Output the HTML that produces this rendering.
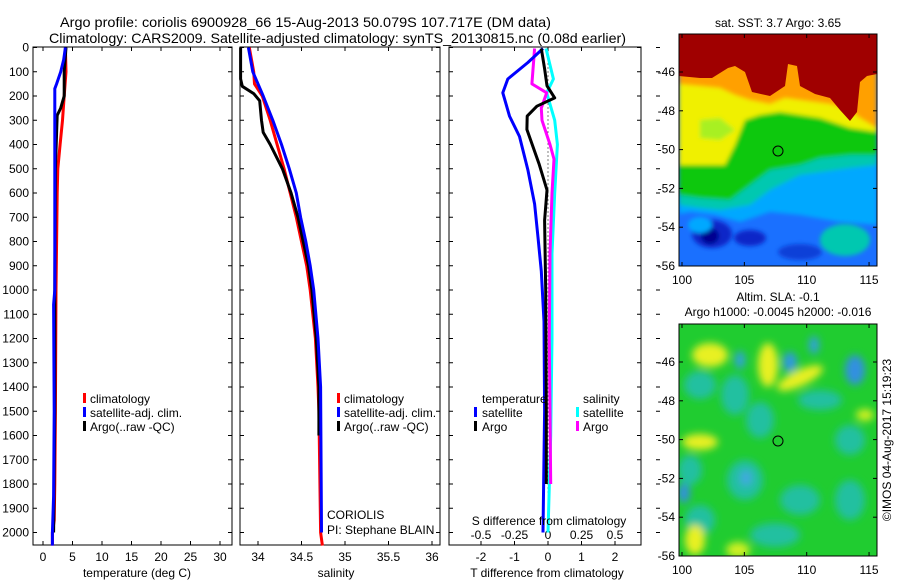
<!DOCTYPE html>
<html><head><meta charset="utf-8">
<style>
html,body{margin:0;padding:0;background:#fff;}
svg{display:block;font-family:"Liberation Sans",sans-serif;}
text{fill:#000;}
</style></head>
<body>
<svg id="fig" width="900" height="580" viewBox="0 0 900 580" xmlns="http://www.w3.org/2000/svg">
<defs>
<filter id="blur2"><feGaussianBlur stdDeviation="2"/></filter>
<filter id="blur4"><feGaussianBlur stdDeviation="4"/></filter>
<clipPath id="clipMap1"><rect x="679" y="34" width="198" height="232"/></clipPath>
<clipPath id="clipMap2"><rect x="679" y="324" width="198" height="232"/></clipPath>
</defs>

<text x="60" y="27" font-size="14" textLength="491" lengthAdjust="spacingAndGlyphs">Argo profile: coriolis 6900928_66 15-Aug-2013 50.079S 107.717E (DM data)</text>
<text x="49" y="43" font-size="14" textLength="577" lengthAdjust="spacingAndGlyphs">Climatology: CARS2009. Satellite-adjusted climatology: synTS_20130815.nc (0.08d earlier)</text>

<g id="axes"></g>
<g id="series"></g>

<g font-size="12">
<rect x="83" y="393" width="3" height="10" fill="#ff0000"/><text x="90" y="403">climatology</text>
<rect x="83" y="407" width="3" height="10" fill="#0000ff"/><text x="90" y="417">satellite-adj. clim.</text>
<rect x="83" y="421" width="3" height="10" fill="#000"/><text x="90" y="431">Argo(..raw -QC)</text>
</g>
<g font-size="12">
<rect x="337" y="393" width="3" height="10" fill="#ff0000"/><text x="344" y="403">climatology</text>
<rect x="337" y="407" width="3" height="10" fill="#0000ff"/><text x="344" y="417">satellite-adj. clim.</text>
<rect x="337" y="421" width="3" height="10" fill="#000"/><text x="344" y="431">Argo(..raw -QC)</text>
</g>
<g font-size="12">
<text x="482" y="403">temperature</text><text x="583" y="403">salinity</text>
<rect x="474" y="407" width="3" height="10" fill="#0000ff"/><text x="482" y="417">satellite</text>
<rect x="474" y="421" width="3" height="10" fill="#000"/><text x="482" y="431">Argo</text>
<rect x="576" y="407" width="3" height="10" fill="#00ffff"/><text x="583" y="417">satellite</text>
<rect x="576" y="421" width="3" height="10" fill="#ff00ff"/><text x="583" y="431">Argo</text>
</g>
<text x="327" y="519" font-size="12">CORIOLIS</text>
<text x="327" y="534" font-size="12">PI: Stephane BLAIN</text>
<text x="549" y="525" font-size="12" text-anchor="middle">S difference from climatology</text>
<text x="137" y="577" font-size="12" text-anchor="middle">temperature (deg C)</text>
<text x="336" y="577" font-size="12" text-anchor="middle">salinity</text>
<text x="547" y="577" font-size="12" text-anchor="middle">T difference from climatology</text>

<!-- SST map -->
<g clip-path="url(#clipMap1)">
<rect x="679" y="34" width="198" height="232" fill="#1a70ff"/>
<g filter="url(#blur2)">
<polygon points="679,34 877,34 877,225 840,222 800,215 770,212 740,222 715,215 690,212 679,214" fill="#00a8ff"/>
<polygon points="679,34 877,34 877,165 850,168 800,175 770,190 750,205 720,210 700,208 679,205" fill="#00c8b0"/>
<polygon points="679,34 877,34 877,155 850,155 820,158 800,165 770,170 750,185 730,200 700,198 679,195" fill="#10c810"/>
<polygon points="679,34 877,34 877,132 850,128 820,118 800,115 780,112 760,115 745,120 735,145 725,165 679,165" fill="#f0f000"/>
<polygon points="700,120 720,118 735,130 720,140 700,138" fill="#a8f020"/>
<polygon points="679,34 877,34 877,128 860,118 850,110 830,104 800,100 785,98 770,104 750,100 735,95 720,88 700,86 679,84" fill="#ffa000"/>
</g>
<polygon points="679,34 877,34 877,74 867,76 860,82 857,112 850,121 840,110 830,98 815,94 800,86 797,66 788,64 785,86 770,96 752,92 745,72 735,66 728,68 712,78 700,78 679,76" fill="#a00000"/>
<g filter="url(#blur2)">
<ellipse cx="712" cy="234" rx="20" ry="14" fill="#0a28c8"/>
<ellipse cx="710" cy="236" rx="9" ry="8" fill="#000090"/>
<ellipse cx="750" cy="238" rx="16" ry="8" fill="#0a28c8"/>
<ellipse cx="800" cy="252" rx="22" ry="8" fill="#1040d8"/>
<ellipse cx="845" cy="240" rx="25" ry="16" fill="#00c8b0"/>
<ellipse cx="700" cy="225" rx="12" ry="8" fill="#00a8ff"/>
</g>
</g>
<rect x="679" y="34" width="198" height="232" fill="none" stroke="#000"/>
<circle cx="778" cy="151" r="5" fill="none" stroke="#000"/>
<text x="778" y="27" font-size="12" text-anchor="middle">sat. SST: 3.7 Argo: 3.65</text>

<!-- SLA map -->
<g clip-path="url(#clipMap2)">
<rect x="679" y="324" width="198" height="232" fill="#20cc30"/>
<g filter="url(#blur4)">
<ellipse cx="700" cy="385" rx="16" ry="14" fill="#20c0a0"/>
<ellipse cx="735" cy="395" rx="14" ry="20" fill="#20c0a0"/>
<ellipse cx="760" cy="420" rx="14" ry="18" fill="#20c0a0"/>
<ellipse cx="820" cy="400" rx="22" ry="10" fill="#20c0a0"/>
<ellipse cx="850" cy="440" rx="15" ry="15" fill="#20c0a0"/>
<ellipse cx="690" cy="470" rx="12" ry="15" fill="#20c0a0"/>
<ellipse cx="745" cy="480" rx="18" ry="20" fill="#20c0a0"/>
<ellipse cx="800" cy="500" rx="20" ry="15" fill="#20c0a0"/>
<ellipse cx="850" cy="500" rx="15" ry="20" fill="#20c0a0"/>
<ellipse cx="700" cy="520" rx="15" ry="15" fill="#20c0a0"/>
<ellipse cx="775" cy="535" rx="25" ry="12" fill="#20c0a0"/>
<ellipse cx="710" cy="355" rx="18" ry="12" fill="#e8f020"/>
<ellipse cx="768" cy="365" rx="10" ry="22" fill="#e8f020"/>
<ellipse cx="800" cy="378" rx="25" ry="8" fill="#e8f020" transform="rotate(-25 800 378)"/>
<ellipse cx="700" cy="442" rx="18" ry="8" fill="#e8f020"/>
<ellipse cx="695" cy="540" rx="10" ry="15" fill="#e8f020"/>
<ellipse cx="738" cy="550" rx="12" ry="8" fill="#d0f020"/>
<ellipse cx="865" cy="415" rx="9" ry="6" fill="#d0f020"/>
<ellipse cx="740" cy="360" rx="5" ry="9" fill="#30a0e0"/>
<ellipse cx="790" cy="362" rx="7" ry="10" fill="#3098e0"/>
<ellipse cx="814" cy="345" rx="5" ry="9" fill="#30a0e0"/>
<ellipse cx="855" cy="370" rx="10" ry="15" fill="#3090e0"/>
<ellipse cx="684" cy="493" rx="6" ry="10" fill="#3090e0"/>
<ellipse cx="746" cy="478" rx="6" ry="8" fill="#40a8e0"/>
</g>
</g>
<rect x="679" y="324" width="198" height="232" fill="none" stroke="#000"/>
<circle cx="778" cy="441" r="5" fill="none" stroke="#000"/>
<text x="778" y="301" font-size="12" text-anchor="middle">Altim. SLA: -0.1</text>
<text x="778" y="316" font-size="12" text-anchor="middle">Argo h1000: -0.0045 h2000: -0.016</text>
<text transform="translate(891 440) rotate(-90)" font-size="12" text-anchor="middle">©IMOS 04-Aug-2017 15:19:23</text>
<g id="mapaxes"></g>
</svg>
<script>
// ---- data ----
const depthTicks = [0,100,200,300,400,500,600,700,800,900,1000,1100,1200,1300,1400,1500,1600,1700,1800,1900,2000];
const tempTicks = [0,5,10,15,20,25,30];
const salTicks = [34,34.5,35,35.5,36];
const salTickLabels = ["34","34.5","35","35.5","36"];
const tdiffTicks = [-2,-1,0,1,2];
const sdiffTicks = [-0.5,-0.25,0,0.25,0.5];
const sdiffTickLabels = ["-0.5","-0.25","0","0.25","0.5"];
const lonTicks = [100,105,110,115];
const latTicks = [-46,-48,-50,-52,-54,-56];

const tClimDepth = [0,100,200,300,400,500,600,800,1000,1500,1800,1950,2000,2054];
const tClimVal   = [3.8,3.9,3.6,3.3,2.9,2.5,2.4,2.3,2.2,2.1,2.0,1.9,1.6,1.6];
const tSatDepth  = [0,50,100,150,170,300,500,1000,1060,1500,1850,2000,2054];
const tSatVal    = [3.8,3.5,3.0,2.3,2.0,2.0,2.0,2.0,1.8,1.9,1.8,1.6,1.6];
const tArgoDepth = [0,100,200,250,280,350,500,1000,1500,2000];
const tArgoVal   = [3.9,3.6,3.6,3.0,2.4,2.3,2.1,2.0,2.0,1.8];

const sClimDepth = [0,100,150,200,300,400,500,600,700,800,900,1000,1200,1400,1500,2000,2054];
const sClimVal   = [33.9,33.95,33.96,34.05,34.14,34.22,34.3,34.37,34.44,34.5,34.56,34.6,34.66,34.69,34.7,34.72,34.74];
const sSatDepth  = [0,100,200,300,400,500,600,700,800,900,1000,1200,1400,2000];
const sSatVal    = [33.89,33.94,34.06,34.17,34.27,34.36,34.44,34.49,34.55,34.6,34.64,34.69,34.72,34.73];
const sArgoDepth = [0,130,160,190,220,300,350,400,500,600,700,800,900,1000,1200,1400,1600];
const sArgoVal   = [33.8,33.8,33.82,33.95,34.02,34.04,34.06,34.14,34.28,34.38,34.46,34.52,34.58,34.62,34.67,34.7,34.7];

const dtSatDepth  = [4,62,130,187,283,367,505,645,783,922,1130,1500,2000];
const dtSatVal    = [-0.15,-0.6,-1.2,-1.35,-1.15,-0.85,-0.6,-0.4,-0.3,-0.2,-0.12,-0.1,-0.15];
const dtArgoDepth = [4,88,158,208,242,283,338,479,588,713,1000,1500,1800];
const dtArgoVal   = [-0.2,-0.1,-0.03,0.2,-0.33,-0.62,-0.63,-0.27,-0.03,-0.1,-0.07,-0.05,-0.05];
const dsSatDepth  = [4,130,187,300,400,600,850,1200,1600,2000];
const dsSatVal    = [-0.015,0.04,-0.01,0.05,0.07,0.05,0.03,0.03,0.02,0.0];
const dsArgoDepth = [4,150,187,250,300,400,460,600,850,1200,1800];
const dsArgoVal   = [-0.1,-0.12,-0.01,-0.05,-0.045,0.015,0.045,0.03,0.015,0.01,0.02];

// ---- scales ----
const yD = d => 47.5 + d*0.2425;
const xT = v => 43 + v*5.9;
const xS = v => 258 + (v-34)*87;
const xDT = v => 548 + v*33.5;
const xDS = v => 548 + v*134;
const xLon = v => 682 + (v-100)*12.47;
const yLat1 = v => 72 + (-46 - v)*19.4;
const yLat2 = v => 362 + (-46 - v)*19.4;

const NS = "http://www.w3.org/2000/svg";
const axes = document.getElementById('axes');
const series = document.getElementById('series');
const mapaxes = document.getElementById('mapaxes');
function mk(tag, attrs, parent){
  const e = document.createElementNS(NS, tag);
  for (const k in attrs) e.setAttribute(k, attrs[k]);
  parent.appendChild(e);
  return e;
}
function txt(x,y,s,anchor,parent){
  const t = mk('text',{x:x,y:y,'font-size':12,'text-anchor':anchor},parent);
  t.textContent = s;
  return t;
}

const panels = [
  {name:'temperature-panel', x0:33, x1:232},
  {name:'salinity-panel', x0:240, x1:440},
  {name:'difference-panel', x0:449, x1:641}
];
const TOP = 47, BOT = 545;
panels.forEach(p=>{
  const r = mk('rect',{x:p.x0,y:TOP,width:p.x1-p.x0,height:BOT-TOP,fill:'none',stroke:'#000','stroke-width':1},axes);
  
  
});
depthTicks.forEach(d=>{
  const y = yD(d);
  const t = txt(29, y+4, String(d), 'end', axes);
  
  
  panels.forEach(p=>{
    mk('line',{x1:p.x0,y1:y,x2:p.x0+4,y2:y,stroke:'#000'},axes);
    mk('line',{x1:p.x1,y1:y,x2:p.x1-4,y2:y,stroke:'#000'},axes);
  });
  mk('line',{x1:656,y1:y,x2:660,y2:y,stroke:'#000'},axes);
});
function xticks(vals, labels, sc, yLab, withTicks){
  vals.forEach((v,i)=>{
    const x = sc(v);
    if (withTicks){
      mk('line',{x1:x,y1:TOP,x2:x,y2:TOP+4,stroke:'#000'},axes);
      mk('line',{x1:x,y1:BOT,x2:x,y2:BOT-4,stroke:'#000'},axes);
    }
    const t = txt(x, yLab, labels[i], 'middle', axes);
    
    
  });
}
xticks(tempTicks, tempTicks.map(String), xT, 561, true);
xticks(salTicks, salTickLabels, xS, 561, true);
xticks(tdiffTicks, tdiffTicks.map(String), xDT, 561, true);
xticks(sdiffTicks, sdiffTickLabels, xDS, 539, false);

const z = mk('line',{x1:xDT(0),y1:yD(0),x2:xDT(0),y2:yD(2000),stroke:'#000','stroke-dasharray':'1,3'},series);



function drawLine(depths, vals, sc, color, name){
  const pts = depths.map((d,i)=> sc(vals[i]).toFixed(1)+','+yD(d).toFixed(1)).join(' ');
  const pl = mk('polyline',{points:pts,fill:'none',stroke:color,'stroke-width':3,'stroke-linejoin':'round'},series);
  
  
}
drawLine(tClimDepth, tClimVal, xT, '#ff0000', 'temperature-climatology-line');
drawLine(tArgoDepth, tArgoVal, xT, '#000000', 'temperature-argo-line');
drawLine(tSatDepth, tSatVal, xT, '#0000ff', 'temperature-satellite-line');
drawLine(sClimDepth, sClimVal, xS, '#ff0000', 'salinity-climatology-line');
drawLine(sArgoDepth, sArgoVal, xS, '#000000', 'salinity-argo-line');
drawLine(sSatDepth, sSatVal, xS, '#0000ff', 'salinity-satellite-line');
drawLine(dsSatDepth, dsSatVal, xDS, '#00ffff', 'salinity-diff-satellite-line');
drawLine(dsArgoDepth, dsArgoVal, xDS, '#ff00ff', 'salinity-diff-argo-line');
drawLine(dtSatDepth, dtSatVal, xDT, '#0000ff', 'temperature-diff-satellite-line');
drawLine(dtArgoDepth, dtArgoVal, xDT, '#000000', 'temperature-diff-argo-line');

[[34,266,yLat1],[324,556,yLat2]].forEach(m=>{
  lonTicks.forEach(v=>{
    const x = xLon(v);
    mk('line',{x1:x,y1:m[1],x2:x,y2:m[1]-4,stroke:'#000'},mapaxes);
    mk('line',{x1:x,y1:m[0],x2:x,y2:m[0]+4,stroke:'#000'},mapaxes);
    const t = txt(x, m[1]+18, String(v), 'middle', mapaxes);
    
    
  });
  latTicks.forEach(v=>{
    const y = m[2](v);
    mk('line',{x1:679,y1:y,x2:683,y2:y,stroke:'#000'},mapaxes);
    mk('line',{x1:877,y1:y,x2:873,y2:y,stroke:'#000'},mapaxes);
    const t = txt(675, y+4, String(v), 'end', mapaxes);
    
    
  });
});
</script>
</body></html>
